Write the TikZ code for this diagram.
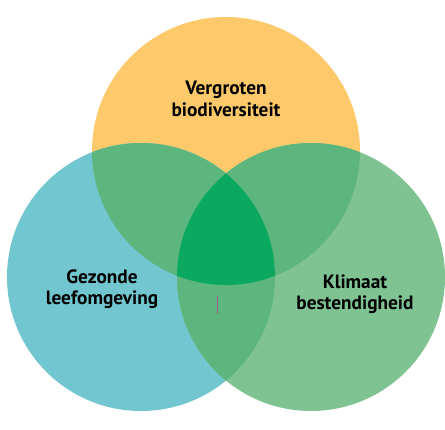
\documentclass[tikz,border=0pt]{standalone}
\usepackage{fontspec}
\setmainfont{PT Sans}
\definecolor{corange}{HTML}{FDC96B}
\definecolor{cblue}{HTML}{72C6CF}
\definecolor{cgreen}{HTML}{7FC393}
\definecolor{cpair}{HTML}{5CB67E}
\definecolor{ccenter}{HTML}{0BA860}
\definecolor{cmark}{HTML}{9E5F8A}
\tikzset{lbl/.style={font=\bfseries\fontsize{19.3}{21.5}\selectfont, align=center, text=black, inner sep=0pt}}
\begin{document}
\begin{tikzpicture}[x=1pt,y=-1pt]
\useasboundingbox (0,0) rectangle (445,430);
\def\R{134}
\coordinate (O) at (226,151);
\coordinate (B) at (141,277);
\coordinate (G) at (311,277);
\fill[corange] (O) circle (\R);
\fill[cblue] (B) circle (\R);
\fill[cgreen] (G) circle (\R);
\begin{scope}\clip (O) circle (\R); \fill[cpair] (B) circle (\R); \end{scope}
\begin{scope}\clip (O) circle (\R); \fill[cpair] (G) circle (\R); \end{scope}
\begin{scope}\clip (B) circle (\R); \fill[cpair] (G) circle (\R); \end{scope}
\begin{scope}\clip (O) circle (\R); \clip (B) circle (\R); \fill[ccenter] (G) circle (\R); \end{scope}
\node[lbl] (t1) at (226,99) {Vergroten\\biodiversiteit};
\node[lbl] (t2) at (102,289) {Gezonde\\leefomgeving};
\node[lbl] (t3) at (355,294) {Klimaat\\bestendigheid};
\coordinate (m1) at (217.5,296);
\coordinate (m2) at (217.5,314);
\draw[cmark, line width=0.8pt] (m1) -- (m2);
\end{tikzpicture}
\end{document}
